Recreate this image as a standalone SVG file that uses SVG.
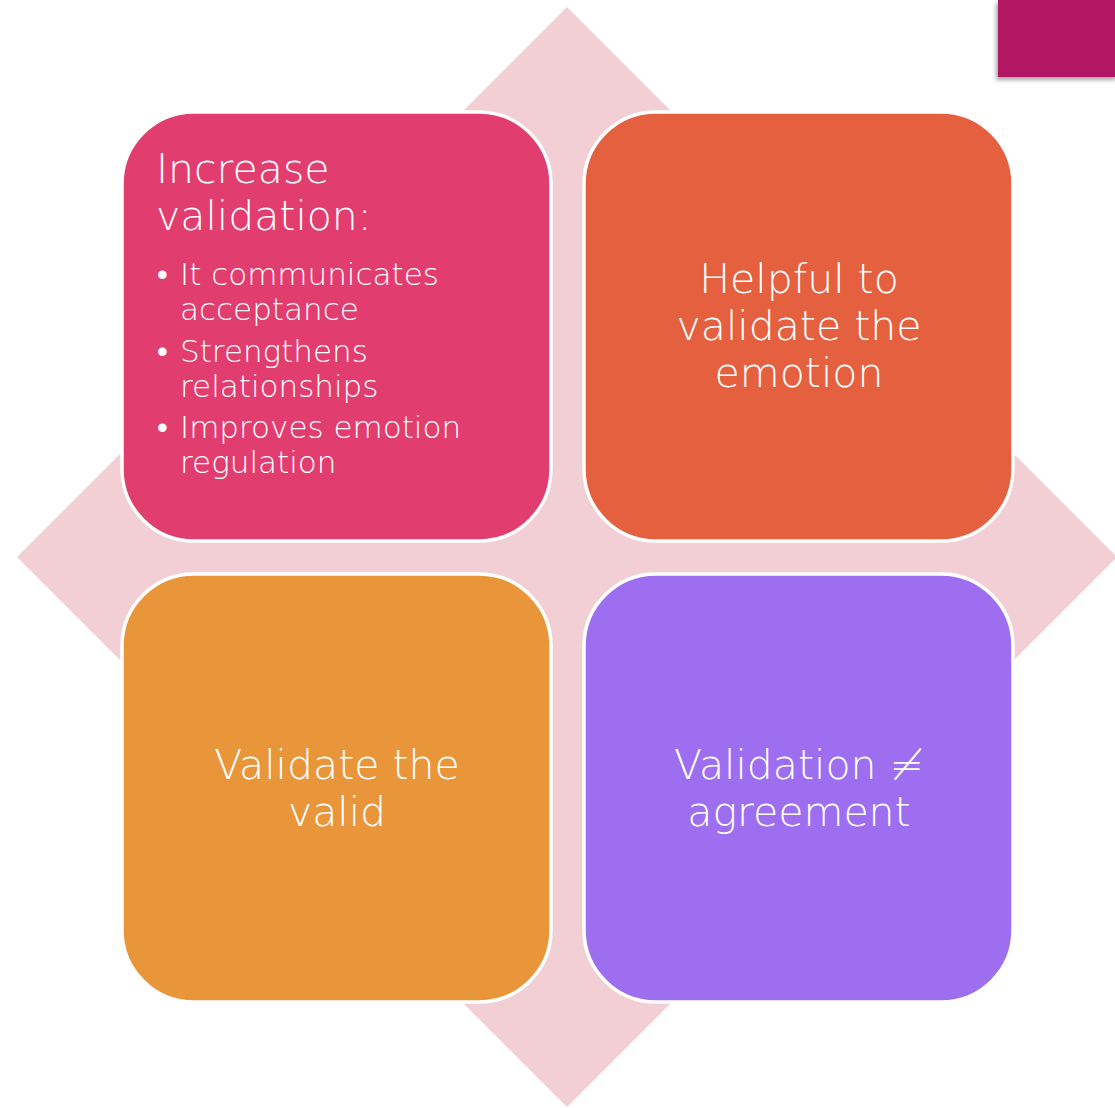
<svg xmlns="http://www.w3.org/2000/svg" width="1115" height="1108" viewBox="0 0 1115 1108">
  <defs>
    <filter id="shadow" x="-20%" y="-20%" width="140%" height="160%">
      <feDropShadow dx="-2" dy="3" stdDeviation="2" flood-color="#000" flood-opacity="0.35"/>
    </filter>
  </defs>
  <style>
    .box { stroke: #ffffff; stroke-width: 3.5; }
    .t { fill: #ffffff; font-family: "DejaVu Sans", "Liberation Sans", sans-serif; font-weight: 200; }
    .big { font-size: 41px; }
    .small { font-size: 31px; }
    .mid { text-anchor: middle; }
  </style>

  <rect width="1115" height="1108" fill="#ffffff"/>

  <!-- corner tab -->
  <rect id="tab" x="998" y="0" width="120" height="77" fill="#B31464" filter="url(#shadow)"/>

  <!-- backdrop diamond -->
  <polygon id="diamond" points="567,7 1117,557 567,1107 17,557" fill="#F2CED5"/>

  <g id="connectors"/>

  <g id="node-increase">
    <rect class="box" x="122" y="112" width="429" height="429" rx="72" fill="#E13D6F"/>
    <text class="t big" x="156" y="183">Increase</text>
    <text class="t big" x="156" y="230">validation:</text>
    <text class="t small" x="157" y="285">•</text>
    <text class="t small" x="180" y="285">It communicates</text>
    <text class="t small" x="180" y="320">acceptance</text>
    <text class="t small" x="157" y="362">•</text>
    <text class="t small" x="180" y="362">Strengthens</text>
    <text class="t small" x="180" y="397">relationships</text>
    <text class="t small" x="157" y="438">•</text>
    <text class="t small" x="180" y="438">Improves emotion</text>
    <text class="t small" x="180" y="473">regulation</text>
  </g>

  <g id="node-helpful">
    <rect class="box" x="584" y="112" width="429" height="429" rx="72" fill="#E4603F"/>
    <text class="t big mid" x="799" y="293">Helpful to</text>
    <text class="t big mid" x="799" y="340">validate the</text>
    <text class="t big mid" x="799" y="387">emotion</text>
  </g>

  <g id="node-valid">
    <rect class="box" x="122" y="574" width="429" height="428" rx="72" fill="#E9963B"/>
    <text class="t big mid" x="337" y="779">Validate the</text>
    <text class="t big mid" x="337" y="826">valid</text>
  </g>

  <g id="node-agreement">
    <rect class="box" x="584" y="574" width="429" height="428" rx="72" fill="#9D6EF0"/>
    <text class="t big mid" x="799" y="779">Validation ≠</text>
    <text class="t big mid" x="799" y="826">agreement</text>
  </g>
</svg>
